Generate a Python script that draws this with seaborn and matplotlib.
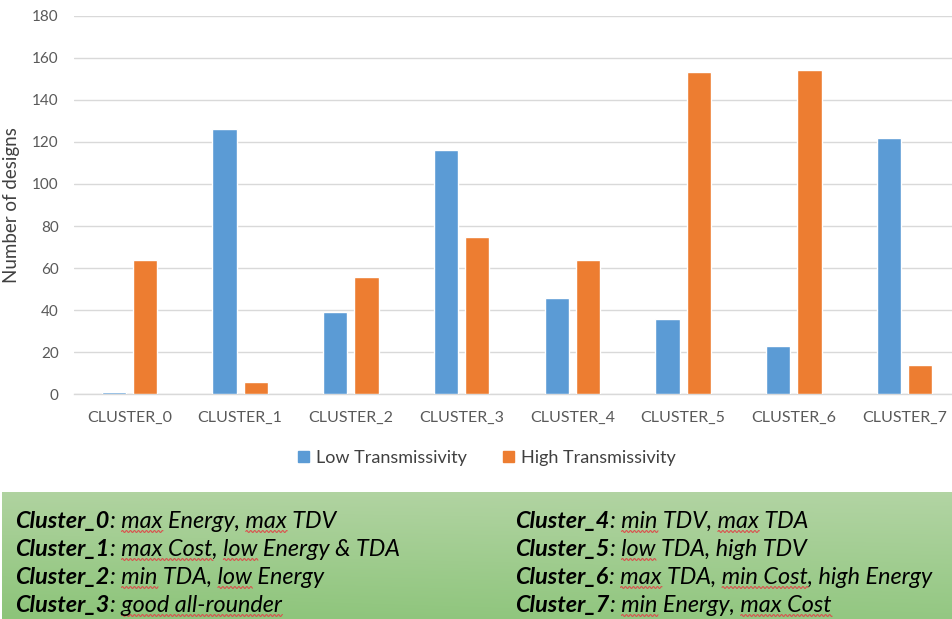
import numpy as np
import pandas as pd
import matplotlib
matplotlib.use("Agg")
import matplotlib.pyplot as plt
from matplotlib.lines import Line2D
import seaborn as sns

# ---- data ----
clusters = ["CLUSTER_0", "CLUSTER_1", "CLUSTER_2", "CLUSTER_3",
            "CLUSTER_4", "CLUSTER_5", "CLUSTER_6", "CLUSTER_7"]
low_trans = [1, 126, 39, 116, 46, 36, 23, 122]
high_trans = [64, 6, 56, 75, 64, 153, 154, 14]
series_names = ["Low Transmissivity", "High Transmissivity"]
y_ticks = [0, 20, 40, 60, 80, 100, 120, 140, 160, 180]
y_label = "Number of designs"

# cluster descriptions: (bold heading, rest of line, words with wavy underline)
notes_left = [
    ("Cluster_0", ": max Energy, max TDV", ["max", "max"]),
    ("Cluster_1", ": max Cost, low Energy & TDA", ["max Cost", "low"]),
    ("Cluster_2", ": min TDA, low Energy", ["min", "low"]),
    ("Cluster_3", ": good all-rounder", ["good all-rounder"]),
]
notes_right = [
    ("Cluster_4", ": min TDV, max TDA", ["min", "max"]),
    ("Cluster_5", ": low TDA, high TDV", ["low"]),
    ("Cluster_6", ": max TDA, min Cost, high Energy", ["max", "min Cost"]),
    ("Cluster_7", ": min Energy, max Cost", ["min", "max Cost"]),
]

df = pd.DataFrame({
    "cluster": clusters * 2,
    "count": low_trans + high_trans,
    "series": [series_names[0]] * len(clusters) + [series_names[1]] * len(clusters),
})

BLUE = "#5B9BD5"
ORANGE = "#ED7D31"
W, H = 952, 619

sns.set_theme(style="white")
plt.rcParams["font.family"] = ["Lato", "DejaVu Sans"]

fig = plt.figure(figsize=(W / 100, H / 100), dpi=100)
fig.patch.set_facecolor("white")

# ---- bar chart ----
ax = fig.add_axes([74 / W, 1 - 394.3 / H, (W - 74) / W, (394.3 - 15.7) / H])
sns.barplot(data=df, x="cluster", y="count", hue="series",
            palette=[BLUE, ORANGE], width=0.565, gap=0.22,
            saturation=1, ax=ax, legend=False, zorder=3)

ax.set_ylim(0, 180)
ax.set_xlim(-0.5, 7.5 - 8 / 110.75)
ax.set_yticks(y_ticks)
ax.yaxis.grid(True, color="#D9D9D9", linewidth=1.0, zorder=0)
ax.xaxis.grid(False)
for s in ["top", "right", "left"]:
    ax.spines[s].set_visible(False)
ax.spines["bottom"].set_color("#D9D9D9")
ax.spines["bottom"].set_linewidth(1.0)
ax.tick_params(axis="both", length=0, colors="#595959", labelsize=11)
ax.tick_params(axis="x", labelsize=11.5, pad=12)
ax.tick_params(axis="y", pad=11)
ax.set_xlabel("")
ax.set_ylabel(y_label, fontsize=13.5, color="#404040")
ax.yaxis.set_label_coords(-0.062, 0.5)

# ---- legend ----
handles = [plt.Rectangle((0, 0), 1, 1, color=BLUE),
           plt.Rectangle((0, 0), 1, 1, color=ORANGE)]
fig.legend(handles, series_names, loc="center", bbox_to_anchor=(487 / W, 1 - 458 / H),
           ncol=2, frameon=False, fontsize=13, handlelength=0.6, handleheight=0.6,
           handletextpad=0.4, columnspacing=2.0, labelcolor="#404040")

# ---- green description panel ----
box_top = 492
gax = fig.add_axes([2 / W, 0, 1 - 2 / W, (H - box_top) / H], zorder=0)
top_c = np.array([0xB0, 0xD3, 0xA0]) / 255
bot_c = np.array([0x8C, 0xC4, 0x79]) / 255
v = np.linspace(0, 1, 128)[:, None, None]
hgrad = np.linspace(0, 1, 256)[None, :, None]
grad = top_c * (1 - v) + bot_c * v
grad = grad * (1 - 0.15 * hgrad) + np.array([0.75, 0.86, 0.72]) * 0.15 * hgrad
gax.imshow(np.clip(grad, 0, 1), aspect="auto", extent=(0, 1, 0, 1), origin="upper")
gax.set_axis_off()

fig.canvas.draw()
renderer = fig.canvas.get_renderer()
FS = 16.8
baselines = [528, 556, 584, 612]


def text_width(s, weight="normal"):
    t = fig.text(0, 0, s, fontsize=FS, style="italic", weight=weight)
    w = t.get_window_extent(renderer=renderer).width
    t.remove()
    return w


def wavy(x0, x1, y_base):
    xs = np.arange(x0, x1 + 0.5, 0.5)
    ys = y_base - 3.5 + 1.0 * np.sin(2 * np.pi * (xs - x0) / 4.0)
    fig.add_artist(Line2D(xs / W, ys / H, transform=fig.transFigure,
                          color="#D9534F", linewidth=0.8, zorder=5))


def draw_notes(x_start, notes):
    for (head, rest, marks), yb in zip(notes, baselines):
        y_fig = 1 - yb / H
        th = fig.text(x_start / W, y_fig, head, fontsize=FS, style="italic",
                      weight="bold", color="black", va="baseline", ha="left", zorder=6)
        x_rest = th.get_window_extent(renderer=renderer).x1 + 1
        fig.text(x_rest / W, y_fig, rest, fontsize=FS, style="italic",
                 color="black", va="baseline", ha="left", zorder=6)
        search = 0
        for m in marks:
            i = rest.index(m, search)
            search = i + len(m)
            x1 = x_rest + text_width(rest[:i + len(m)])
            x0 = x1 - text_width(m)
            wavy(x0, x1, H - yb)


draw_notes(15, notes_left)
draw_notes(515, notes_right)

fig.savefig("out.png", dpi=100)
